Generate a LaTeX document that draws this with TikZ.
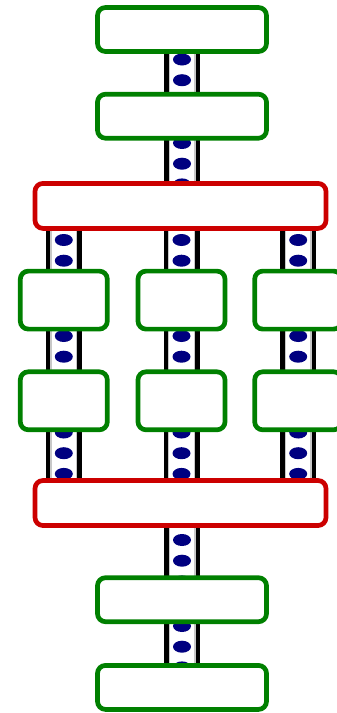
\documentclass[tikz,border=0pt]{standalone}
\usepackage{tikz}
\usetikzlibrary{positioning,backgrounds,decorations.markings}
\definecolor{boxgreen}{RGB}{0,128,0}
\definecolor{boxred}{RGB}{204,0,0}
\definecolor{dotnavy}{RGB}{0,0,128}
\definecolor{pipegray}{RGB}{200,200,200}

\begin{document}
\begin{tikzpicture}[node distance=38pt,
    box/.style={draw=boxgreen,fill=white,line width=4.7pt,rounded corners=8pt,
      inner sep=0pt,minimum width=169pt,minimum height=44pt},
    smallbox/.style={box,minimum width=87pt,minimum height=58pt},
    redbox/.style={box,draw=boxred,minimum width=291pt,minimum height=45pt},
    pipe/.style={draw=black,line width=36pt,
      postaction={draw=pipegray,line width=27pt},
      postaction={draw=white,line width=24.4pt},
      postaction={decorate,decoration={markings,
        mark=between positions #1 and 1 step 20.7pt with
          {\fill[dotnavy] (0,0) ellipse [x radius=6pt,y radius=9pt];}}}}]
  \useasboundingbox (0,0) rectangle (337pt,-713pt);
  \node[box] (top) at (182pt,-29.5pt) {};
  \node[box,below=of top] (second) {};
  \node[redbox,below=40.5pt of second,xshift=-1.5pt] (split) {};
  \node[smallbox,below=of split,xshift=1pt] (midone) {};
  \node[smallbox,left=26pt of midone] (leftone) {};
  \node[smallbox,right=25pt of midone] (rightone) {};
  \node[smallbox,below=of midone] (midtwo) {};
  \node[smallbox,left=26pt of midtwo] (lefttwo) {};
  \node[smallbox,right=25pt of midtwo] (righttwo) {};
  \node[redbox,below=46pt of midtwo,xshift=-1pt] (join) {};
  \node[box,below=47.5pt of join,xshift=1.5pt] (third) {};
  \node[box,below=39pt of third] (bottom) {};

  % pipes go under the boxes
  \begin{scope}[on background layer]
    \draw[pipe=9.3pt] (top.center) -- (second.center);
    \draw[pipe=6.1pt] (second.center) -- (second |- split);
    \foreach \col in {leftone,midone,rightone}
      \draw[pipe=13.4pt] (\col |- split) -- (\col.center);
    \draw[pipe=15.2pt] (leftone.center) -- (lefttwo.center);
    \draw[pipe=15.2pt] (midone.center) -- (midtwo.center);
    \draw[pipe=15.2pt] (rightone.center) -- (righttwo.center);
    \foreach \col in {lefttwo,midtwo,righttwo}
      \draw[pipe=11pt] (\col.center) -- (\col |- join);
    \draw[pipe=16.3pt] (third |- join) -- (third.center);
    \draw[pipe=5.6pt] (third.center) -- (bottom.center);
  \end{scope}
\end{tikzpicture}
\end{document}
